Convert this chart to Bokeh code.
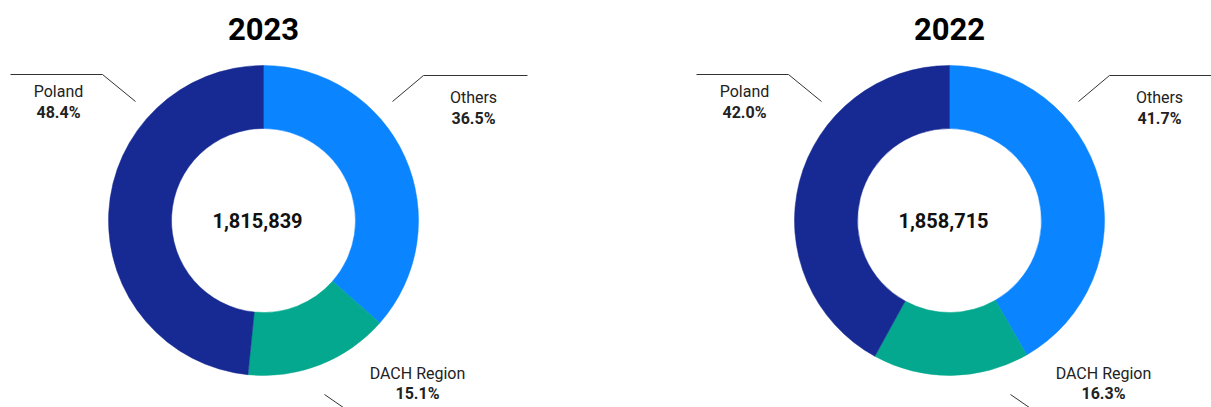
import math
from bokeh.plotting import figure
from bokeh.models import Range1d, ColumnDataSource
from bokeh.core.properties import value
from bokeh.embed import file_html
from bokeh.resources import INLINE

# ---- data ----
years = ["2023", "2022"]
totals = ["1,815,839", "1,858,715"]
categories = ["Others", "DACH Region", "Poland"]
shares_2023 = [36.5, 15.1, 48.4]
shares_2022 = [41.7, 16.3, 42.0]
colors = ["#0A84FF", "#03A88E", "#172A93"]

# ---- layout (screen pixel coordinates) ----
W, H = 1211, 407
centers_x = [263, 949]
center_y = 220
R_OUT, R_IN = 155, 92
FONT = "Roboto"

p = figure(width=W, height=H, output_backend="svg", toolbar_location=None,
           x_range=Range1d(0, W), y_range=Range1d(-H, 0),
           min_border=0, tools="")
p.axis.visible = False
p.grid.visible = False
p.outline_line_color = None
p.background_fill_color = "white"
p.border_fill_color = "white"

# label offsets relative to centre for each category (layout)
label_pos = {
    "Others": (210, 96.5, 117.5),
    "DACH Region": (154, 373, 392.5),
    "Poland": (-205, 91, 111.5),
}
leader = {
    "Others": [(129, 101), (160, 75), (264, 75)],
    "DACH Region": [(61, 394), (90, 414)],
    "Poland": [(-253, 74), (-161, 74), (-128, 101)],
}

for cx, year, total, shares in zip(centers_x, years, totals, [shares_2023, shares_2022]):
    tot = sum(shares)
    starts, ends = [], []
    cum = 0.0
    for s in shares:
        a0 = math.pi / 2 - 2 * math.pi * cum / tot
        cum += s
        a1 = math.pi / 2 - 2 * math.pi * cum / tot
        starts.append(a0)
        ends.append(a1)
    src = ColumnDataSource(dict(x=[cx] * len(shares), y=[-center_y] * len(shares),
                                start=starts, end=ends, color=colors))
    p.annular_wedge(x="x", y="y", inner_radius=R_IN, outer_radius=R_OUT,
                    start_angle="start", end_angle="end", direction="clock",
                    fill_color="color", line_color="color", line_width=0.5, source=src)

    # title
    p.text(x=[cx], y=[-28], text=[year], text_font=value(FONT), text_font_size="31px",
           text_font_style="bold", text_align="center", text_baseline="middle",
           text_color="#000000")
    # centre total
    p.text(x=[cx - 6], y=[-center_y], text=[total], text_font=value(FONT), text_font_size="20px",
           text_font_style="bold", text_align="center", text_baseline="middle",
           text_color="#111111")

    for cat, s in zip(categories, shares):
        dx, y1, y2 = label_pos[cat]
        p.text(x=[cx + dx], y=[-y1], text=[cat], text_font=value(FONT), text_font_size="16px",
               text_align="center", text_baseline="middle", text_color="#222222")
        p.text(x=[cx + dx], y=[-y2], text=[f"{s:.1f}%"], text_font=value(FONT),
               text_font_size="16px", text_font_style="bold", text_align="center",
               text_baseline="middle", text_color="#222222")
        pts = leader[cat]
        p.line(x=[cx + a for a, b in pts], y=[-b for a, b in pts], line_color="#333333",
               line_width=1)

open("out.html", "w").write(file_html(p, INLINE))
